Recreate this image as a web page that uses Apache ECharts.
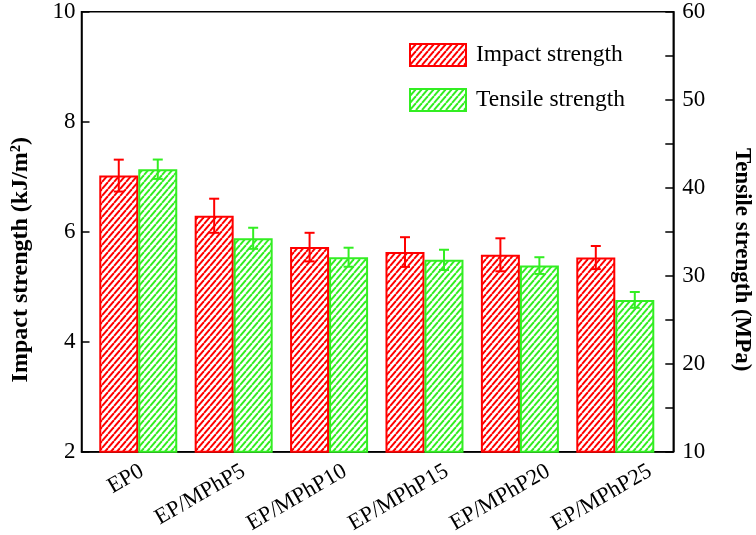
<!DOCTYPE html>
<html>
<head>
<meta charset="utf-8">
<script src="https://cdn.jsdelivr.net/npm/echarts@6/dist/echarts.min.js"></script>
<style>
html,body{margin:0;padding:0;background:#fff;}
#chart{width:756px;height:535px;}
</style>
</head>
<body>
<div id="chart"></div>
<script>
// ---- data ----
const categories = ['EP0', 'EP/MPhP5', 'EP/MPhP10', 'EP/MPhP15', 'EP/MPhP20', 'EP/MPhP25'];
const impactStrength = [7.02, 6.29, 5.72, 5.63, 5.58, 5.53];
const impactError = [0.29, 0.31, 0.26, 0.27, 0.30, 0.21];
const tensileStrength = [42.1, 34.25, 32.1, 31.8, 31.15, 27.25];
const tensileError = [1.1, 1.2, 1.08, 1.15, 0.95, 0.9];
const leftTicks = [2, 4, 6, 8, 10];
const rightTicks = [10, 20, 30, 40, 50, 60];
const seriesNames = ['Impact strength', 'Tensile strength'];

// ---- styling ----
const RED = '#ff0000';
const GREEN = '#33ee22';
const FONT = '"Liberation Serif", "Times New Roman", serif';
const BAR_W = 39;

function hatch(color) {
  const w = 6, h = 7;
  const c = document.createElement('canvas');
  c.width = w; c.height = h;
  const g = c.getContext('2d');
  g.fillStyle = '#fff';
  g.fillRect(0, 0, w, h);
  g.strokeStyle = color;
  g.lineWidth = 2;
  for (const dx of [-w, 0, w]) {
    g.beginPath();
    g.moveTo(dx, h);
    g.lineTo(dx + w, 0);
    g.stroke();
  }
  return c;
}

const idx = categories.map((_, i) => i);
const barData = (vals) => vals.map((v, i) => [i, v]);
const errData = (vals, errs) => vals.map((v, i) => [i, v - errs[i], v + errs[i]]);

function errRenderer(offset, color) {
  return function (params, api) {
    const x = api.value(0);
    const lo = api.coord([x, api.value(1)]);
    const hi = api.coord([x, api.value(2)]);
    const cx = lo[0] + offset;
    const cap = 5;
    const style = { stroke: color, lineWidth: 2 };
    return {
      type: 'group',
      children: [
        { type: 'line', shape: { x1: cx, y1: lo[1], x2: cx, y2: hi[1] }, style },
        { type: 'line', shape: { x1: cx - cap, y1: hi[1], x2: cx + cap, y2: hi[1] }, style },
        { type: 'line', shape: { x1: cx - cap, y1: lo[1], x2: cx + cap, y2: lo[1] }, style }
      ]
    };
  };
}

const chart = echarts.init(document.getElementById('chart'));
const option = {
  backgroundColor: '#fff',
  animation: false,
  textStyle: { fontFamily: FONT },
  grid: {
    left: 81.5, right: 756 - 673.3, top: 11.7, bottom: 535 - 451.7,
    outerBoundsMode: 'none', containLabel: false,
    show: true, borderColor: '#000', borderWidth: 1.5, backgroundColor: 'transparent'
  },
  legend: {
    data: seriesNames,
    icon: 'rect',
    orient: 'vertical',
    left: 409, top: 43,
    padding: 0,
    itemWidth: 56, itemHeight: 22, itemGap: 21,
    textStyle: { fontFamily: FONT, fontSize: 23.5, color: '#000', padding: [0, 0, 0, 5] }
  },
  xAxis: [
    {
      type: 'value', position: 'bottom',
      min: -0.595, max: 5.608,
      splitLine: { show: false },
      axisLine: { show: true, onZero: false, lineStyle: { color: '#000', width: 1.5 } },
      axisTick: { show: false },
      axisLabel: { show: false }
    },
    {
      // label axis: the original plot spreads its category labels slightly wider than the bars
      type: 'value', position: 'bottom', offset: 0,
      min: -0.595, max: 5.23,
      splitLine: { show: false },
      axisLine: { show: false },
      axisTick: { show: false },
      axisLabel: {
        customValues: idx,
        formatter: (v) => categories[Math.round(v)],
        rotate: 30, margin: 18,
        fontFamily: FONT, fontSize: 22.5, color: '#000'
      }
    }
  ],
  yAxis: [
    {
      type: 'value', position: 'left',
      min: leftTicks[0], max: leftTicks[leftTicks.length - 1], interval: leftTicks[1] - leftTicks[0],
      name: 'Impact strength (kJ/m²)', nameLocation: 'middle', nameGap: 49,
      nameTextStyle: { fontFamily: FONT, fontSize: 24, fontWeight: 'bold', color: '#000', padding: [0, 56, 0, 0] },
      splitLine: { show: false },
      axisLine: { show: true, onZero: false, lineStyle: { color: '#000', width: 1.5 } },
      axisTick: { show: true, inside: true, length: 8, lineStyle: { color: '#000', width: 1.5 } },
      axisLabel: { margin: 6, fontFamily: FONT, fontSize: 23, color: '#000' }
    },
    {
      type: 'value', position: 'right',
      min: rightTicks[0], max: rightTicks[rightTicks.length - 1], interval: rightTicks[1] - rightTicks[0],
      name: 'Tensile strength (MPa)', nameLocation: 'middle', nameGap: 57, nameRotate: -90,
      nameTextStyle: { fontFamily: FONT, fontSize: 23, fontWeight: 'bold', color: '#000', padding: [0, 0, 0, 56] },
      splitLine: { show: false },
      axisLine: { show: true, onZero: false, lineStyle: { color: '#000', width: 1.5 } },
      axisTick: { show: true, inside: true, length: 8, lineStyle: { color: '#000', width: 1.5 } },
      minorTick: { show: true, splitNumber: 2, length: 8, lineStyle: { color: '#000', width: 1.5 } },
      minorSplitLine: { show: false },
      axisLabel: { margin: 9, fontFamily: FONT, fontSize: 23, color: '#000' }
    }
  ],
  series: [
    {
      name: seriesNames[0], type: 'bar', xAxisIndex: 0, yAxisIndex: 0,
      barWidth: BAR_W, barGap: '0%',
      data: barData(impactStrength),
      itemStyle: { color: { image: hatch(RED), repeat: 'repeat' }, borderColor: RED, borderWidth: 2 }
    },
    {
      name: seriesNames[1], type: 'bar', xAxisIndex: 0, yAxisIndex: 1,
      barWidth: BAR_W, barGap: '0%',
      data: barData(tensileStrength),
      itemStyle: { color: { image: hatch(GREEN), repeat: 'repeat' }, borderColor: GREEN, borderWidth: 2 }
    },
    {
      name: 'impact-err', type: 'custom', xAxisIndex: 0, yAxisIndex: 0, z: 5,
      renderItem: errRenderer(-BAR_W / 2, RED),
      data: errData(impactStrength, impactError)
    },
    {
      name: 'tensile-err', type: 'custom', xAxisIndex: 0, yAxisIndex: 1, z: 5,
      renderItem: errRenderer(BAR_W / 2, GREEN),
      data: errData(tensileStrength, tensileError)
    }
  ]
};
chart.setOption(option);
</script>
</body>
</html>
